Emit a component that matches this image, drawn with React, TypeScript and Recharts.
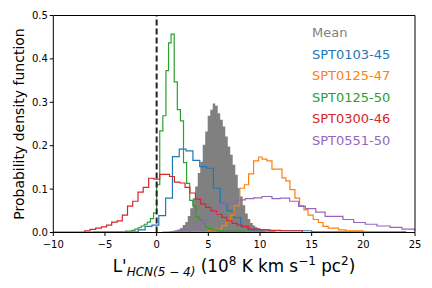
import React from 'react';
import { ComposedChart, Area, Line, XAxis, YAxis, ReferenceLine } from 'recharts';

// histogram bin edges and heights
const meanEdges = [0.8, 1.04, 1.28, 1.52, 1.76, 2.0, 2.28, 2.52, 2.77, 3.01, 3.25, 3.49, 3.73, 3.98, 4.22, 4.46, 4.7, 4.94, 5.19, 5.43, 5.67, 5.91, 6.15, 6.4, 6.64, 6.88, 7.12, 7.36, 7.61, 7.85, 8.09, 8.33, 8.57, 8.82, 9.06, 9.3, 9.54, 9.78, 10.03, 10.5, 11.5, 12.0];
const meanHeights = [0.001, 0.002, 0.003, 0.004, 0.005, 0.007, 0.01, 0.017, 0.024, 0.038, 0.056, 0.079, 0.106, 0.137, 0.163, 0.202, 0.233, 0.269, 0.283, 0.297, 0.292, 0.275, 0.26, 0.244, 0.221, 0.198, 0.179, 0.156, 0.133, 0.102, 0.083, 0.063, 0.044, 0.031, 0.022, 0.016, 0.012, 0.009, 0.005, 0.003, 0.001];

const spt0103Edges = [-7.0, -1.77, -1.11, -0.45, 0.21, 0.87, 1.53, 2.19, 2.85, 3.51, 4.17, 4.83, 5.49, 6.15, 6.81, 7.47, 8.13, 8.79, 10.77, 15.0, 24.1];
const spt0103Heights = [0.001, 0.006, 0.014, 0.017, 0.039, 0.079, 0.175, 0.192, 0.188, 0.166, 0.152, 0.148, 0.102, 0.067, 0.05, 0.034, 0.013, 0.006, 0.004, 0.0015];

const spt0125aEdges = [3.5, 5.0, 5.7, 6.3, 6.75, 7.15, 7.5, 8.03, 8.5, 8.9, 9.38, 9.87, 10.2, 10.67, 11.16, 12.13, 12.5, 12.9, 13.38, 13.84, 14.25, 14.65, 15.15, 15.65, 16.1, 16.6, 17.6, 18.3, 20.0, 22.9, 23.2, 23.7];
const spt0125aHeights = [0.001, 0.004, 0.008, 0.016, 0.025, 0.04, 0.062, 0.102, 0.11, 0.135, 0.165, 0.174, 0.169, 0.165, 0.146, 0.126, 0.119, 0.099, 0.079, 0.062, 0.052, 0.04, 0.03, 0.023, 0.014, 0.01, 0.006, 0.004, 0.002, 0.0, 0.002];

const spt0125bEdges = [-6.0, -3.0, -2.4, -2.1, -1.8, -1.5, -1.2, -0.9, -0.6, -0.3, 0.0, 0.3, 0.6, 0.9, 1.15, 1.4, 1.7, 2.0, 2.3, 2.6, 2.9, 3.2, 3.5, 3.8, 4.1, 4.4, 4.7, 5.0, 5.3, 6.0, 8.5];
const spt0125bHeights = [0.001, 0.003, 0.005, 0.008, 0.011, 0.015, 0.019, 0.024, 0.032, 0.045, 0.11, 0.234, 0.269, 0.373, 0.437, 0.457, 0.347, 0.283, 0.257, 0.161, 0.113, 0.074, 0.062, 0.036, 0.03, 0.022, 0.013, 0.009, 0.006, 0.003];

const spt0300Edges = [-10.0, -6.95, -6.45, -5.9, -5.35, -4.85, -4.35, -3.82, -3.32, -2.82, -2.32, -1.8, -1.3, -0.77, -0.26, 0.3, 0.75, 1.25, 1.72, 2.25, 2.75, 3.22, 3.75, 4.25, 4.75, 5.25, 5.8, 6.3, 6.8, 7.3, 7.8, 8.3, 8.9, 10.0, 11.0, 12.0, 14.1];
const spt0300Heights = [0.001, 0.004, 0.007, 0.01, 0.013, 0.017, 0.024, 0.027, 0.04, 0.061, 0.072, 0.093, 0.104, 0.125, 0.123, 0.134, 0.134, 0.129, 0.116, 0.114, 0.104, 0.091, 0.077, 0.066, 0.058, 0.05, 0.042, 0.035, 0.027, 0.021, 0.017, 0.014, 0.008, 0.006, 0.005, 0.004];

const spt0551Edges = [-4.9, -1.8, 0.6, 2.3, 3.74, 4.22, 4.9, 5.19, 6.0, 6.8, 7.61, 8.58, 9.38, 10.19, 11.16, 11.96, 12.87, 13.74, 14.39, 15.4, 16.3, 18.03, 19.07, 20.19, 21.32, 22.6, 23.74, 24.94, 26.0];
const spt0551Heights = [0.001, 0.0, 0.001, 0.008, 0.015, 0.022, 0.03, 0.044, 0.066, 0.068, 0.075, 0.078, 0.08, 0.083, 0.078, 0.079, 0.072, 0.06, 0.055, 0.047, 0.037, 0.03, 0.023, 0.019, 0.015, 0.012, 0.008, 0.006];

const sourceNames = ['SPT0103-45', 'SPT0125-47', 'SPT0125-50', 'SPT0300-46', 'SPT0551-50'];
const sourceColors = ['#1f77b4', '#ff7f0e', '#2ca02c', '#d62728', '#9467bd'];
const sourceEdges = [spt0103Edges, spt0125aEdges, spt0125bEdges, spt0300Edges, spt0551Edges];
const sourceHeights = [spt0103Heights, spt0125aHeights, spt0125bHeights, spt0300Heights, spt0551Heights];

const xTicks = [-10, -5, 0, 5, 10, 15, 20, 25];
const yTicks = [0, 0.1, 0.2, 0.3, 0.4, 0.5];

const FONT = 'DejaVu Sans';

// turn edges + heights into points for a stepAfter curve (like histtype='step')
const toSteps = (edges: number[], heights: number[]) => {
    const pts = [{ x: edges[0], y: 0 }];
    heights.forEach((h, i) => pts.push({ x: edges[i], y: h }));
    pts.push({ x: edges[edges.length - 1], y: 0 });
    return pts;
};

const fmtX = (v: number) => (v < 0 ? '\u2212' + Math.abs(v) : String(v));

const XLabel = () => (
    <text x={234} y={272} textAnchor="middle" fontSize={16.8} fontFamily={FONT} fill="#000">
        L'
        <tspan fontStyle="italic" fontSize={12} dy={4}>HCN(5 − 4)</tspan>
        <tspan dy={-4}> (10</tspan>
        <tspan fontSize={12} dy={-7}>8</tspan>
        <tspan dy={7}> K km s</tspan>
        <tspan fontSize={12} dy={-7}>−1</tspan>
        <tspan dy={7}> pc</tspan>
        <tspan fontSize={12} dy={-7}>2</tspan>
        <tspan dy={7}>)</tspan>
    </text>
);

const YLabel = () => (
    <text
        x={0}
        y={0}
        transform="translate(24, 124) rotate(-90)"
        textAnchor="middle"
        fontSize={14}
        fontFamily={FONT}
        fill="#000"
    >
        Probability density function
    </text>
);

const App: React.FC = () => {
    const meanData = toSteps(meanEdges, meanHeights);

    return (
        <div style={{ position: 'relative', width: 432, height: 288 }}>
            <style>{'body{margin:0}'}</style>
            <ComposedChart width={432} height={288} margin={{ top: 15.5, right: 17, left: 0, bottom: 0 }}>
                <XAxis
                    type="number"
                    dataKey="x"
                    domain={[-10, 25]}
                    ticks={xTicks}
                    allowDataOverflow
                    tickFormatter={fmtX}
                    tickSize={3.5}
                    tickMargin={5}
                    height={55.5}
                    stroke="#000"
                    tick={{ fontSize: 10, fill: '#000', fontFamily: FONT }}
                    label={{ content: () => <XLabel /> }}
                />
                <YAxis
                    type="number"
                    dataKey="y"
                    domain={[0, 0.5]}
                    ticks={yTicks}
                    allowDataOverflow
                    tickFormatter={(v: number) => v.toFixed(1)}
                    tickSize={3.5}
                    tickMargin={2}
                    width={53.3}
                    stroke="#000"
                    tick={{ fontSize: 10, fill: '#000', fontFamily: FONT }}
                    label={{ content: () => <YLabel /> }}
                />
                <Area
                    data={meanData}
                    dataKey="y"
                    type="stepAfter"
                    stroke="none"
                    fill="#808080"
                    fillOpacity={1}
                    isAnimationActive={false}
                />
                {sourceNames.map((name, i) => (
                    <Line
                        key={name}
                        name={name}
                        data={toSteps(sourceEdges[i], sourceHeights[i])}
                        dataKey="y"
                        type="stepAfter"
                        stroke={sourceColors[i]}
                        strokeWidth={1.2}
                        dot={false}
                        activeDot={false}
                        isAnimationActive={false}
                    />
                ))}
                <ReferenceLine x={0} stroke="#222" strokeWidth={2} strokeDasharray="6 3" />
                <ReferenceLine y={0.5} stroke="#000" />
                <ReferenceLine x={25} stroke="#000" />
            </ComposedChart>
            <div
                style={{
                    position: 'absolute',
                    left: 312,
                    top: 22,
                    fontFamily: FONT,
                    fontSize: 13,
                    lineHeight: '21.5px',
                    whiteSpace: 'nowrap',
                }}
            >
                <div style={{ color: '#808080' }}>Mean</div>
                {sourceNames.map((name, i) => (
                    <div key={name} style={{ color: sourceColors[i] }}>
                        {name}
                    </div>
                ))}
            </div>
        </div>
    );
};

export default App;
